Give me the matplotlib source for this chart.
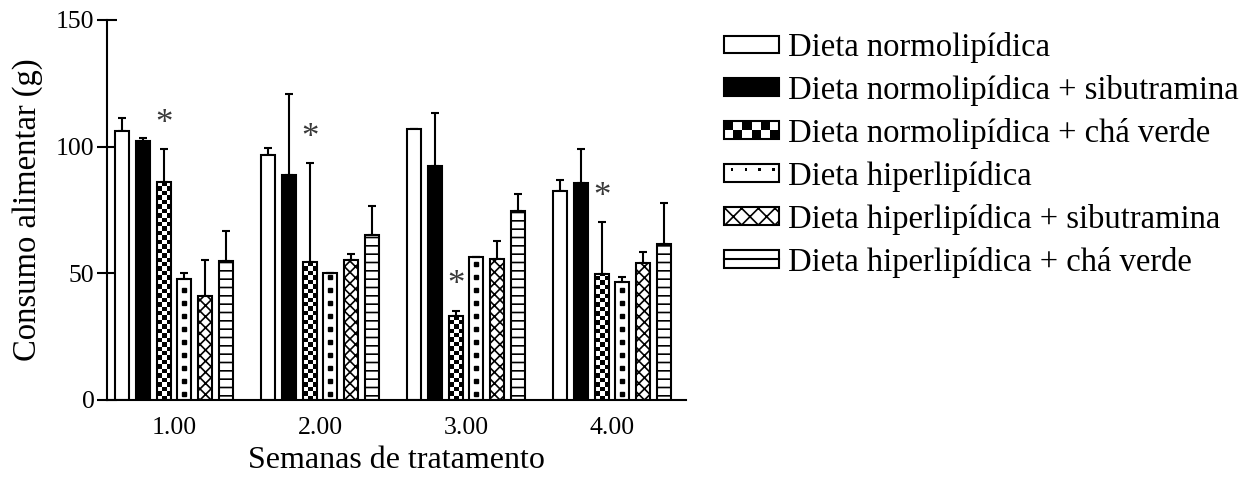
import numpy as np
import matplotlib
matplotlib.use("Agg")
import matplotlib.pyplot as plt
from matplotlib.patches import Rectangle, Patch
from matplotlib.lines import Line2D
from matplotlib.legend_handler import HandlerBase

# Consumo alimentar médio (g) e erro padrão por semana
semanas = [1, 2, 3, 4]
semana_labels = ["1.00", "2.00", "3.00", "4.00"]

grupos = [
    "Dieta normolipídica",
    "Dieta normolipídica + sibutramina",
    "Dieta normolipídica + chá verde",
    "Dieta hiperlipídica",
    "Dieta hiperlipídica + sibutramina",
    "Dieta hiperlipídica + chá verde",
]

normo = [106.2, 96.6, 107.0, 82.5]
normo_sem = [5.0, 2.7, 0.0, 4.4]
normo_sib = [102.2, 89.0, 92.4, 85.5]
normo_sib_sem = [1.1, 31.8, 20.8, 13.6]
normo_cha = [86.1, 54.6, 33.3, 49.7]
normo_cha_sem = [13.0, 38.8, 2.0, 20.4]
hiper = [47.6, 50.3, 56.6, 46.6]
hiper_sem = [2.4, 0.0, 0.0, 1.8]
hiper_sib = [41.2, 55.3, 55.7, 54.1]
hiper_sib_sem = [14.1, 2.2, 7.1, 4.2]
hiper_cha = [55.0, 65.1, 74.6, 61.6]
hiper_cha_sem = [11.7, 11.6, 6.7, 16.3]

# diferença significativa (normolipídica + chá verde) em todas as semanas
signif = [True, True, True, True]

medias = [normo, normo_sib, normo_cha, hiper, hiper_sib, hiper_cha]
erros = [normo_sem, normo_sib_sem, normo_cha_sem, hiper_sem, hiper_sib_sem, hiper_cha_sem]
estilos = ["white", "black", "checker", "dots", "cross", "hlines"]

plt.rcParams["font.family"] = ["Liberation Serif", "DejaVu Serif"]
plt.rcParams["hatch.linewidth"] = 1.2
plt.rcParams["hatch.color"] = "black"

fig = plt.figure(figsize=(12.59, 4.82), dpi=100)
ax = fig.add_axes([107 / 1259, 82 / 482, 579 / 1259, 380 / 482])

largura = 0.096
passo = 0.1425
ax.set_xlim(0.541, 4.507)
ax.set_ylim(0, 150)

x = np.array(semanas, dtype=float)


def checker_fill(bar, cell_h):
    x0, w, h = bar.get_x(), bar.get_width(), bar.get_height()
    nrows = max(1, int(np.ceil(h / cell_h)))
    grid = np.indices((nrows, 3)).sum(axis=0) % 2
    im = ax.imshow(grid, cmap="gray_r", vmin=0, vmax=1, origin="lower",
                   extent=(x0, x0 + w, 0, nrows * cell_h), aspect="auto",
                   interpolation="nearest", zorder=2)
    im.set_clip_path(bar)


def dot_fill(bar, step):
    xc = bar.get_x() + bar.get_width() / 2
    ys = np.arange(step / 2, bar.get_height(), step)
    ln, = ax.plot(np.full_like(ys, xc), ys, "s", ms=2.6, color="black", zorder=2)
    ln.set_clip_path(bar)


for i, (m, e, est) in enumerate(zip(medias, erros, estilos)):
    pos = x + (i - 2.5) * passo
    hatch = {"cross": "xxx", "hlines": "--"}.get(est)
    face = "black" if est == "black" else "white"
    bars = ax.bar(pos, m, width=largura, color=face, edgecolor="black",
                  linewidth=1.5, hatch=hatch, zorder=3 if est in ("checker", "dots") else 2)
    if est in ("checker", "dots"):
        for b in bars:
            b.set_facecolor("none")
            if est == "checker":
                checker_fill(b, 1.75)
            else:
                dot_fill(b, 5.1)
        # fundo branco sob o padrão
        ax.bar(pos, m, width=largura, color="white", edgecolor="none", zorder=1)
    ax.errorbar(pos, m, yerr=[np.zeros(len(m)), e], fmt="none", ecolor="black",
                elinewidth=1.5, capsize=2.6, capthick=1.5, zorder=1.5)
    if est == "checker":
        for p, v, s, sig in zip(pos, m, e, signif):
            if sig:
                ax.annotate("*", (p, v + s), xytext=(0, 6), textcoords="offset points",
                            ha="center", va="bottom", fontsize=25, color="#3a3a3a")

ax.set_xlim(0.541, 4.507)
ax.set_ylim(0, 150)

for s in ("top", "right"):
    ax.spines[s].set_visible(False)
for s in ("left", "bottom"):
    ax.spines[s].set_linewidth(1.5)

ax.set_yticks([0, 50, 100, 150])
ax.set_xticks(x)
ax.set_xticklabels(semana_labels)
ax.tick_params(axis="y", direction="inout", length=14, width=1.5, labelsize=18.5, pad=2)
ax.tick_params(axis="x", length=0, labelsize=18.5, pad=12)
ax.set_ylabel("Consumo alimentar (g)", fontsize=23.5, labelpad=9)
ax.set_xlabel("Semanas de tratamento", fontsize=23, labelpad=5)


class PatternHandler(HandlerBase):
    def __init__(self, kind):
        super().__init__()
        self.kind = kind

    def create_artists(self, legend, orig_handle, xdescent, ydescent,
                       width, height, fontsize, trans):
        x0, y0 = -xdescent, -ydescent
        arts = [Rectangle((x0, y0), width, height, facecolor="white",
                          edgecolor="black", linewidth=1.5, transform=trans)]
        if self.kind == "checker":
            nc, nr = 6, 2
            cw, ch = width / nc, height / nr
            for r in range(nr):
                for c in range(nc):
                    if (r + c) % 2:
                        arts.append(Rectangle((x0 + c * cw, y0 + r * ch), cw, ch,
                                              facecolor="black", edgecolor="none",
                                              transform=trans))
        elif self.kind == "dots":
            for k in range(4):
                arts.append(Rectangle((x0 + width * (0.12 + 0.25 * k), y0 + height * 0.6),
                                      width * 0.05, height * 0.2, facecolor="black",
                                      edgecolor="none", transform=trans))
        else:
            arts.append(Line2D([x0, x0 + width], [y0 + height / 2] * 2, color="black",
                               linewidth=1.5, transform=trans))
        return arts


handles = []
hmap = {}
for est, nome in zip(estilos, grupos):
    if est in ("checker", "dots", "hlines"):
        h = Patch(facecolor="white", edgecolor="black")
        hmap[h] = PatternHandler(est)
    else:
        h = Patch(facecolor="black" if est == "black" else "white", edgecolor="black",
                  linewidth=1.5, hatch="xx" if est == "cross" else None)
    handles.append(h)

fig.legend(handles, grupos, handler_map=hmap, loc="upper left",
           bbox_to_anchor=(724 / 1259, 1 - 32 / 482), frameon=False, fontsize=23.5,
           handlelength=1.7, handleheight=0.46, handletextpad=0.25, labelspacing=0.365,
           borderpad=0, borderaxespad=0)

fig.savefig("out.png", dpi=100)
